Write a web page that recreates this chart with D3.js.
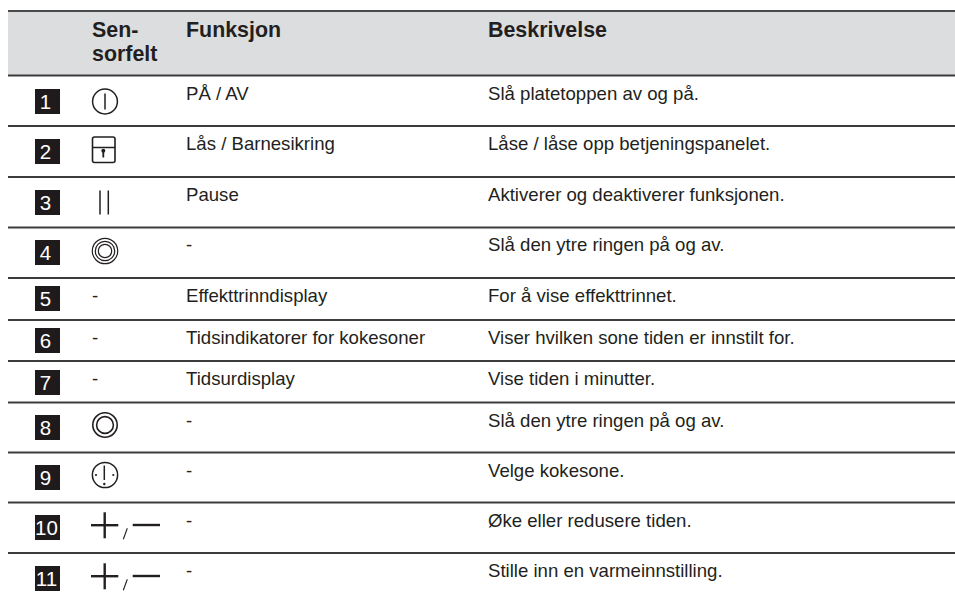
<!DOCTYPE html>
<html>
<head>
<meta charset="utf-8">
<script src="https://cdn.jsdelivr.net/npm/d3@7"></script>
<style>
	html, body { margin: 0; background: #fff; }
	text { font-family: 'Liberation Sans', Arial, sans-serif; fill: #231f20; }
</style>
</head>
<body>
<svg id="chart"></svg>
<script>
var headers = ['Funksjon', 'Beskrivelse'];
var sensorHeader = ['Sen-', 'sorfelt'];
var rows = ['1', '2', '3', '4', '5', '6', '7', '8', '9', '10', '11'];
var sensors = ['power', 'lock', 'pause', 'ring3', '-', '-', '-', 'ring2', 'zone', 'plusminus', 'plusminus'];
var functions = ['PÅ / AV', 'Lås / Barnesikring', 'Pause', '-', 'Effekttrinndisplay', 'Tidsindikatorer for kokesoner', 'Tidsurdisplay', '-', '-', '-', '-'];
var descriptions = [
	'Slå platetoppen av og på.',
	'Låse / låse opp betjeningspanelet.',
	'Aktiverer og deaktiverer funksjonen.',
	'Slå den ytre ringen på og av.',
	'For å vise effekttrinnet.',
	'Viser hvilken sone tiden er innstilt for.',
	'Vise tiden i minutter.',
	'Slå den ytre ringen på og av.',
	'Velge kokesone.',
	'Øke eller redusere tiden.',
	'Stille inn en varmeinnstilling.',
];

var width = 955;
var height = 598;
var ink = '#231f20';
var bodySize = 18.6;
var headSize = 21.4;

// rows are not evenly tall in the picture, so the scale gets one range value per row
var ruleY = d3.scaleOrdinal().domain(rows).range([75.5, 126, 177, 227.5, 278, 320, 361, 402.5, 452.5, 502.5, 553]);
var badgeY = d3.scaleOrdinal().domain(rows).range([89, 139, 190, 240, 286, 328, 370, 415, 465, 515, 566]);
var baseY = d3.scaleOrdinal().domain(rows).range([99.5, 150, 201, 251, 302, 343.5, 384.5, 427, 476.5, 527, 577]);
var column = d3.scaleOrdinal().domain(['badge', 'sensor', 'funksjon', 'beskrivelse']).range([35, 92, 186, 488]);

var svg = d3.select('#chart').attr('width', width).attr('height', height).style('display', 'block');

svg.append('rect')
	.attr('x', 8)
	.attr('y', 11)
	.attr('width', width - 8)
	.attr('height', 64)
	.attr('fill', '#dcddde');

svg.append('line')
	.attr('x1', 8)
	.attr('x2', width)
	.attr('y1', 11)
	.attr('y2', 11)
	.attr('stroke', '#4a4a4c')
	.attr('stroke-width', 2);

svg.selectAll('.rule')
	.data(rows)
	.enter()
	.append('line')
	.attr('class', 'rule')
	.attr('x1', 8)
	.attr('x2', width)
	.attr('y1', d => ruleY(d))
	.attr('y2', d => ruleY(d))
	.attr('stroke', '#3c3c3e')
	.attr('stroke-width', 1.8);

// header
svg.selectAll('.sensor-head')
	.data(sensorHeader)
	.enter()
	.append('text')
	.attr('x', column('sensor'))
	.attr('y', (d, i) => 36.5 + i * 24.5)
	.attr('font-size', headSize)
	.attr('font-weight', 'bold')
	.text(d => d);

svg.selectAll('.head')
	.data(headers)
	.enter()
	.append('text')
	.attr('x', d => column(d.toLowerCase()))
	.attr('y', 36.5)
	.attr('font-size', headSize)
	.attr('font-weight', 'bold')
	.text(d => d);

// badges
var badge = svg.selectAll('.badge')
	.data(rows)
	.enter()
	.append('g')
	.attr('class', 'badge')
	.attr('transform', d => 'translate(' + column('badge') + ',' + badgeY(d) + ')');

badge.append('rect')
	.attr('width', 25)
	.attr('height', 25)
	.attr('fill', '#1f1b1c');

badge.append('text')
	.attr('x', d => (d.length > 1 ? 11.5 : 10.5))
	.attr('y', 19.5)
	.attr('text-anchor', 'middle')
	.attr('font-size', 20.5)
	.style('fill', '#fff')
	.text(d => d);

// table text
svg.selectAll('.fn')
	.data(rows)
	.enter()
	.append('text')
	.attr('x', column('funksjon'))
	.attr('y', d => baseY(d))
	.attr('font-size', bodySize)
	.text((d, i) => functions[i]);

svg.selectAll('.desc')
	.data(rows)
	.enter()
	.append('text')
	.attr('x', column('beskrivelse'))
	.attr('y', d => baseY(d))
	.attr('font-size', bodySize)
	.text((d, i) => descriptions[i]);

// sensor field symbols, drawn around the middle of the badge
var iconX = 105;
var sensor = svg.selectAll('.sensor')
	.data(rows)
	.enter()
	.append('g')
	.attr('class', 'sensor')
	.attr('transform', d => 'translate(' + iconX + ',' + (badgeY(d) + 12.5) + ')');

sensor.each(function(d, i) {
	var g = d3.select(this);
	var kind = sensors[i];

	function circle(cy, r, sw) {
		g.append('circle').attr('cy', cy).attr('r', r).attr('fill', 'none').attr('stroke', ink).attr('stroke-width', sw);
	}
	function dot(cx, cy, r) {
		g.append('circle').attr('cx', cx).attr('cy', cy).attr('r', r).attr('fill', ink);
	}
	function line(x1, y1, x2, y2, sw) {
		g.append('line')
			.attr('x1', x1).attr('y1', y1).attr('x2', x2).attr('y2', y2)
			.attr('stroke', ink).attr('stroke-width', sw);
	}

	if (kind == '-') {
		g.append('text').attr('x', -13).attr('y', baseY(d) - badgeY(d) - 12.5).attr('font-size', bodySize).text('-');
	} else if (kind == 'power') {
		circle(0, 12.4, 1.5);
		line(0, -8, 0, 8, 1.5);
	} else if (kind == 'lock') {
		g.append('rect')
			.attr('x', -12.5).attr('y', -14.5).attr('width', 22.5).attr('height', 25.5).attr('rx', 2)
			.attr('fill', 'none').attr('stroke', ink).attr('stroke-width', 1.6);
		line(-12.5, -4, 10, -4, 1.5);
		dot(-1.7, -0.8, 2);
		line(-1.7, -0.8, -1.7, 6, 1.8);
	} else if (kind == 'pause') {
		line(-5, -12, -5, 12, 1.5);
		line(3.3, -12, 3.3, 12, 1.5);
	} else if (kind == 'ring3') {
		circle(-1.5, 12.7, 1.2);
		circle(-1.5, 9.7, 1.2);
		circle(-1.5, 6.7, 1.2);
	} else if (kind == 'ring2') {
		circle(-2.5, 12.2, 1.6);
		circle(-2.5, 8.4, 1.6);
	} else if (kind == 'zone') {
		circle(-2.5, 12.6, 1.5);
		line(-0.7, -12, -0.7, 2.5, 1.5);
		dot(-9, -2.5, 1.1);
		dot(8.3, -2.5, 1.1);
		dot(-0.7, 6.5, 1.2);
	} else if (kind == 'plusminus') {
		line(-14, -2.3, 13.3, -2.3, 2.4);
		line(-0.3, -15.2, -0.3, 10.8, 2.4);
		line(18.3, 11.8, 22.3, 0.8, 1.1);
		line(27.7, -2.5, 55, -2.5, 2.4);
	}
});
</script>
</body>
</html>
